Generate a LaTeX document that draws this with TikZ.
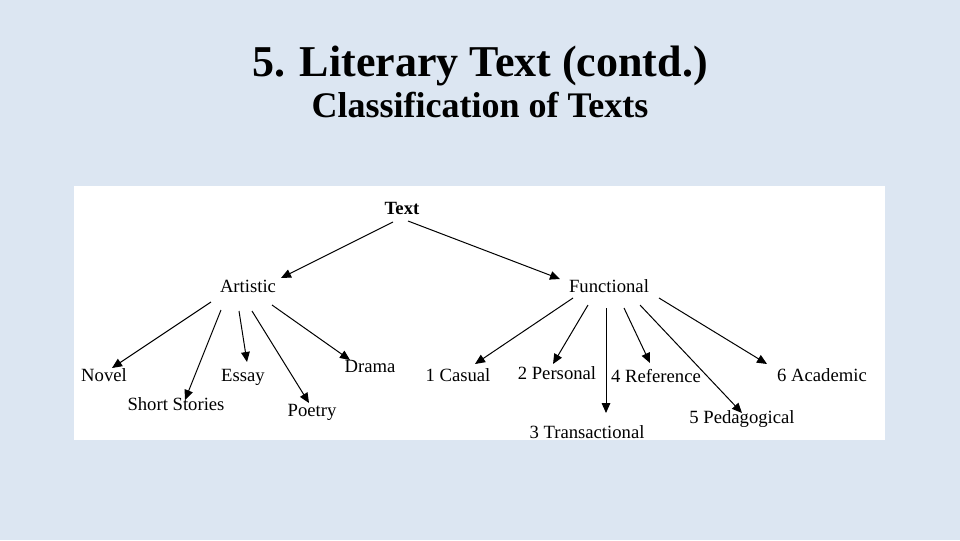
\documentclass[tikz,border=0pt]{standalone}
\usepackage{fontspec}
\setmainfont{Liberation Serif}
\usetikzlibrary{arrows.meta,calc}
\definecolor{bgblue}{HTML}{DCE6F2}
\begin{document}
\begin{tikzpicture}[x=0.75pt,y=-0.75pt,
  lbl/.style={inner sep=0pt, font=\fontsize{14}{16}\selectfont, text height=2.2ex, text depth=.25ex},
  conn/.style={-{Triangle[length=7.5pt,width=6.5pt]}, line width=0.75pt},
  ttl/.style={anchor=base, inner sep=0pt, font=\bfseries\fontsize{33}{36}\selectfont},
  subttl/.style={anchor=base, inner sep=0pt, font=\bfseries\fontsize{27}{30}\selectfont}]
\fill[bgblue] (0,0) rectangle (960,540);
\useasboundingbox (0,0) rectangle (960,540);
\fill[white] (74,186) rectangle (885,440);

\node[ttl] (title) at (480,76) {5. Literary Text (contd.)};
\node[subttl] (subtitle) at (480,117) {Classification of Texts};

\node[lbl, font=\bfseries\fontsize{14}{16}\selectfont] (text) at (402,209) {Text};
\node[lbl] (art) at (248,287) {Artistic};
\node[lbl] (fun) at (609,287) {Functional};
\node[lbl] (novel) at (104,376) {Novel};
\node[lbl] (short) at (176,405) {Short Stories};
\node[lbl] (essay) at (243,376) {Essay};
\node[lbl] (poetry) at (312,411) {Poetry};
\node[lbl] (drama) at (370,367) {Drama};
\node[lbl] (casual) at (458,376) {1 Casual};
\node[lbl] (personal) at (557,374) {2 Personal};
\node[lbl] (trans) at (587,433) {3 Transactional};
\node[lbl] (ref) at (656,377) {4 Reference};
\node[lbl] (ped) at (742,418) {5 Pedagogical};
\node[lbl] (acad) at (822,376) {6 Academic};

\draw[conn] ($(text)+(-9,13)$) -- ($(art)+(33,-9)$);
\draw[conn] ($(text)+(6,12)$) -- ($(fun)+(-49,-8)$);

\draw[conn] ($(art)+(-37,15)$) -- ($(novel)+(8,-8)$);
\draw[conn] ($(art)+(-27,23)$) -- ($(short)+(9,-5)$);
\draw[conn] ($(art)+(-9,24)$) -- ($(essay)+(4,-14)$);
\draw[conn] ($(art)+(4,24)$) -- ($(poetry)+(-3,-8)$);
\draw[conn] ($(art)+(24,18)$) -- ($(drama)+(-20,-7)$);

\draw[conn] ($(fun)+(-36,11)$) -- ($(casual)+(17,-12)$);
\draw[conn] ($(fun)+(-21,18)$) -- ($(personal)+(-4,-10)$);
\draw[conn] ($(fun)+(-3,21)$) -- ($(trans)+(19,-20)$);
\draw[conn] ($(fun)+(15,21)$) -- ($(ref)+(-6,-14)$);
\draw[conn] ($(fun)+(31,18)$) -- ($(ped)+(0,-5)$);
\draw[conn] ($(fun)+(50,11)$) -- ($(acad)+(-55,-12)$);
\end{tikzpicture}
\end{document}
